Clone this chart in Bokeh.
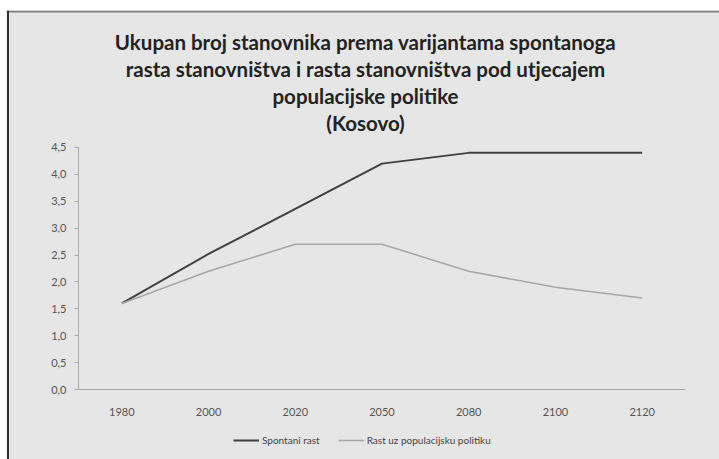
from bokeh.plotting import figure
from bokeh.models import (Range1d, FixedTicker, CustomJSTickFormatter,
                          Legend, LegendItem, Label, Span)
from bokeh.embed import file_html
from bokeh.resources import INLINE

years = ["1980", "2000", "2020", "2050", "2080", "2100", "2120"]
spontani = [1.6, 2.52, 3.36, 4.2, 4.4, 4.4, 4.4]
politika = [1.6, 2.2, 2.7, 2.7, 2.2, 1.9, 1.7]
title_lines = [
    "Ukupan broj stanovnika prema varijantama spontanoga",
    "rasta stanovništva i rasta stanovništva pod utjecajem",
    "populacijske politike",
    "(Kosovo)",
]
series_names = ["Spontani rast", "Rast uz populacijsku politiku"]
y_ticks = [0, 0.5, 1, 1.5, 2, 2.5, 3, 3.5, 4, 4.5]

# category slots: one unit per year, marks at slot centres
xs = [i + 0.5 for i in range(len(years))]

BG = "#e6e6e6"
PX = 53.78   # pixels per y unit
PXX = 86.71  # pixels per category slot

p = figure(width=719, height=459, output_backend="svg", toolbar_location=None,
           x_range=Range1d(-72 / PXX, len(years) + 34 / PXX),
           y_range=Range1d(-70 / PX, 379 / PX),
           min_border_left=6, min_border_right=0, min_border_top=10,
           min_border_bottom=0)
p.background_fill_color = BG
p.border_fill_color = "white"
p.outline_line_color = None
p.xgrid.grid_line_color = None
p.ygrid.grid_line_color = None

# frame borders like the spreadsheet chart area
p.add_layout(Span(location=379 / PX - 1 / PX, dimension="width",
                  line_color="#7f7f7f", line_width=2))
p.add_layout(Span(location=-72 / PXX + 1.5 / PXX, dimension="height",
                  line_color="#303030", line_width=2))

p.yaxis.fixed_location = 0
p.yaxis.ticker = FixedTicker(ticks=y_ticks)
p.yaxis.bounds = (0, 4.5)
p.yaxis.formatter = CustomJSTickFormatter(code="return tick.toFixed(1).replace('.', ',');")
p.yaxis.axis_line_color = "#a8a8a8"
p.yaxis.major_tick_line_color = "#a8a8a8"
p.yaxis.major_tick_out = 4
p.yaxis.major_tick_in = 0
p.yaxis.minor_tick_line_color = None
p.yaxis.major_label_text_font = "Lato"
p.yaxis.major_label_text_font_size = "11px"
p.yaxis.major_label_text_color = "#555555"
p.yaxis.major_label_standoff = 8

p.xaxis.fixed_location = 0
p.xaxis.ticker = FixedTicker(ticks=xs)
p.xaxis.bounds = (0, len(years))
p.xaxis.formatter = CustomJSTickFormatter(args=dict(labels=years),
                                          code="return labels[Math.floor(tick)];")
p.xaxis.axis_line_color = "#a8a8a8"
p.xaxis.major_tick_line_color = None
p.xaxis.major_tick_out = 0
p.xaxis.minor_tick_line_color = None
p.xaxis.major_label_text_font = "Lato"
p.xaxis.major_label_text_font_size = "11px"
p.xaxis.major_label_text_color = "#555555"
p.xaxis.major_label_standoff = 18

r1 = p.line(xs, spontani, line_color="#404040", line_width=2)
r2 = p.line(xs, politika, line_color="#a6a6a6", line_width=1.5)

legend = Legend(items=[LegendItem(label=series_names[0], renderers=[r1]),
                       LegendItem(label=series_names[1], renderers=[r2])],
                orientation="horizontal", location=(227, 13),
                background_fill_alpha=0, border_line_color=None,
                label_text_font="Lato", label_text_font_size="10px",
                label_text_color="#444444", glyph_width=26, glyph_height=10,
                label_standoff=3, spacing=18, padding=4, margin=0)
p.add_layout(legend, "center")

title_y = [348, 321, 294, 267]  # pixels above the zero line
for line, yy in zip(title_lines, title_y):
    p.add_layout(Label(x=287 / PXX, y=yy / PX, text=line, text_align="center",
                       text_baseline="middle", text_font="Lato",
                       text_font_style="bold", text_font_size="20.5px",
                       text_color="#222222"))

open("out.html", "w").write(file_html(p, INLINE))
